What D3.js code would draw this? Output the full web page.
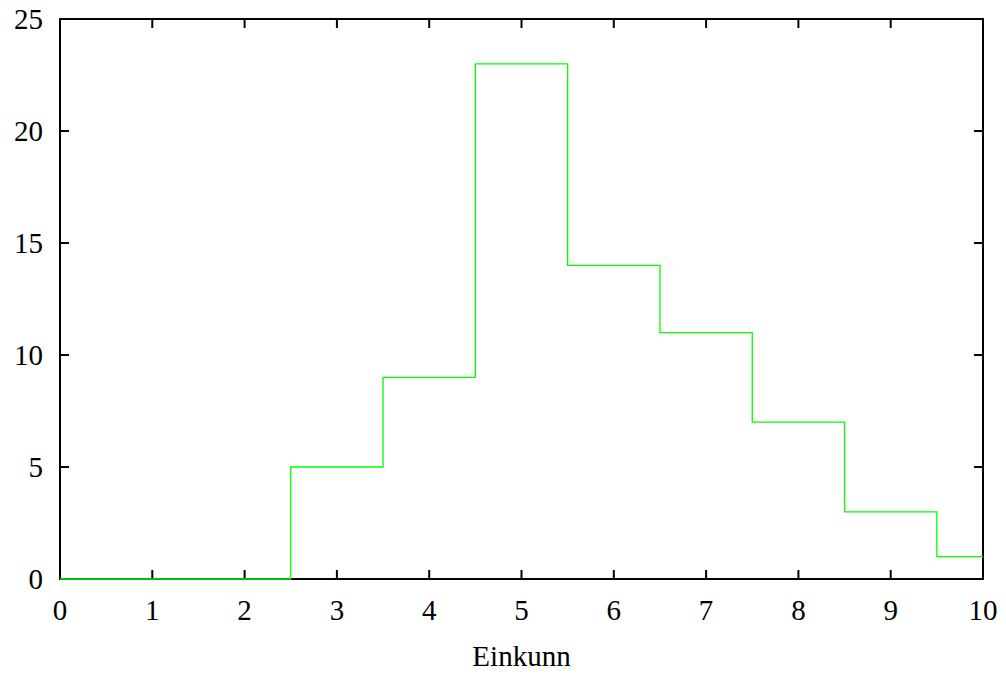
<!DOCTYPE html>
<html><head><meta charset="utf-8">
<script src="https://cdn.jsdelivr.net/npm/d3@7"></script>
<style>body{margin:0;background:#fff}svg{display:block}</style>
</head><body>
<svg id="c" width="1006" height="675"></svg>
<script>
const binEdges = [0, 2.5, 3.5, 4.5, 5.5, 6.5, 7.5, 8.5, 9.5, 10];
const counts = [0, 5, 9, 23, 14, 11, 7, 3, 1];
const xTicks = [0,1,2,3,4,5,6,7,8,9,10];
const yTicks = [0,5,10,15,20,25];
const xLabel = "Einkunn";

const FONT = "'Liberation Serif', 'Times New Roman', Times, serif";
const svg = d3.select("#c");
const L = 60, R = 983, T = 19, B = 579;
const x = d3.scaleLinear().domain([0,10]).range([L,R]);
const y = d3.scaleLinear().domain([0,25]).range([B,T]);
const tl = 9;

// ticks
const g = svg.append("g").attr("stroke","#000").attr("stroke-width",2);
xTicks.forEach(t=>{
  g.append("line").attr("x1",x(t)).attr("x2",x(t)).attr("y1",B).attr("y2",B-tl);
  g.append("line").attr("x1",x(t)).attr("x2",x(t)).attr("y1",T).attr("y2",T+tl);
});
yTicks.forEach(t=>{
  g.append("line").attr("x1",L).attr("x2",L+tl).attr("y1",y(t)).attr("y2",y(t));
  g.append("line").attr("x1",R).attr("x2",R-tl).attr("y1",y(t)).attr("y2",y(t));
});
svg.append("rect").attr("x",L).attr("y",T).attr("width",R-L).attr("height",B-T)
  .attr("fill","none").attr("stroke","#000").attr("stroke-width",2);

// step line (drawn over frame)
const pts = [];
counts.forEach((c,i)=>{ pts.push([binEdges[i],c]); pts.push([binEdges[i+1],c]); });
svg.append("path").attr("d", d3.line().x(d=>x(d[0])).y(d=>y(d[1]))(pts))
  .attr("fill","none").attr("stroke","#00ff00").attr("stroke-width",1.3);

xTicks.forEach(t=>{
  svg.append("text").attr("x",x(t)).attr("y",B+41).attr("text-anchor","middle")
    .attr("font-family",FONT).attr("font-size",29).text(t);
});
yTicks.forEach(t=>{
  svg.append("text").attr("x",L-17).attr("y",y(t)+10).attr("text-anchor","end")
    .attr("font-family",FONT).attr("font-size",29).text(t);
});
svg.append("text").attr("x",(L+R)/2).attr("y",666).attr("text-anchor","middle")
  .attr("font-family",FONT).attr("font-size",29).text(xLabel);
</script>
</body></html>
